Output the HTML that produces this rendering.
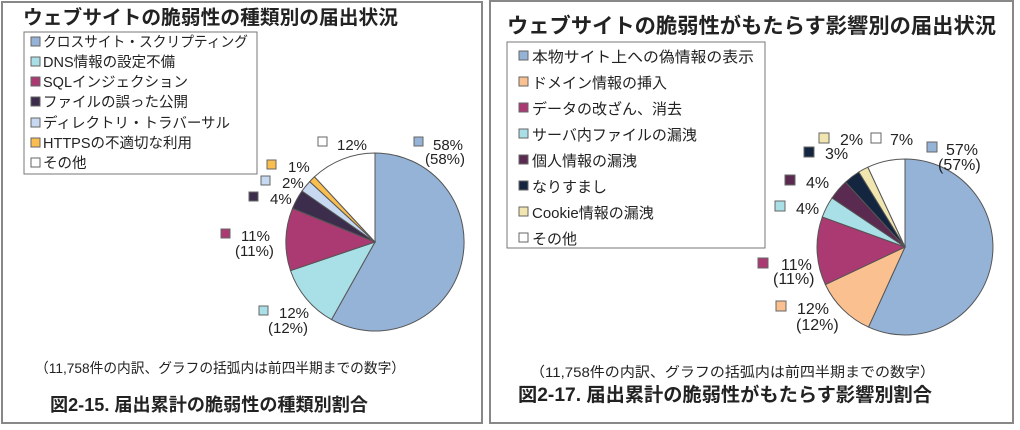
<!DOCTYPE html>
<html><head><meta charset="utf-8"><style>
html,body{margin:0;padding:0;background:#fff}
svg text{font-family:"Liberation Sans","Noto Sans CJK JP",sans-serif;fill:#222}
</style></head><body>
<svg width="1020" height="425" viewBox="0 0 1020 425" xmlns="http://www.w3.org/2000/svg">
<rect x="2" y="2" width="480" height="421" fill="#fff" stroke="#888" stroke-width="2"/>
<rect x="490" y="1" width="523" height="422" fill="#fff" stroke="#888" stroke-width="2"/>
<g id="L">
<text x="23" y="24" font-size="19.5" font-weight="bold" textLength="375" lengthAdjust="spacingAndGlyphs">ウェブサイトの脆弱性の種類別の届出状況</text>
<rect x="24" y="32" width="233" height="142" fill="#fff" stroke="#777"/>
<g font-size="14.5">
<rect x="31" y="37" width="9" height="9" fill="#95b3d7" stroke="#666"/><text x="43" y="47" textLength="205" lengthAdjust="spacingAndGlyphs">クロスサイト・スクリプティング</text>
<rect x="31" y="57" width="9" height="9" fill="#a9dfe6" stroke="#666"/><text x="43" y="67">DNS情報の設定不備</text>
<rect x="31" y="77" width="9" height="9" fill="#ab3a72" stroke="#666"/><text x="43" y="87">SQLインジェクション</text>
<rect x="31" y="97" width="9" height="9" fill="#3b2d4b" stroke="#666"/><text x="43" y="107">ファイルの誤った公開</text>
<rect x="31" y="118" width="9" height="9" fill="#c6d9f0" stroke="#666"/><text x="43" y="128">ディレクトリ・トラバーサル</text>
<rect x="31" y="138" width="9" height="9" fill="#f9be4e" stroke="#666"/><text x="43" y="148">HTTPSの不適切な利用</text>
<rect x="31" y="158" width="9" height="9" fill="#fff" stroke="#666"/><text x="43" y="168">その他</text>
</g>
<g stroke="#555" stroke-width="1">
<path d="M375,242 L375,153 A89,89 0 1 1 331.5,319.6 Z" fill="#95b3d7"/>
<path d="M375,242 L331.5,319.6 A89,89 0 0 1 290.5,270.6 Z" fill="#a9dfe6"/>
<path d="M375,242 L290.5,270.6 A89,89 0 0 1 292.5,208.4 Z" fill="#ab3a72"/>
<path d="M375,242 L292.5,208.4 A89,89 0 0 1 302.0,191.0 Z" fill="#3b2d4b"/>
<path d="M375,242 L302.0,191.0 A89,89 0 0 1 309.7,181.6 Z" fill="#c6d9f0"/>
<path d="M375,242 L309.7,181.6 A89,89 0 0 1 314.5,176.8 Z" fill="#f9be4e"/>
<path d="M375,242 L314.5,176.8 A89,89 0 0 1 375,153 Z" fill="#fff"/>
</g>
<g font-size="15">
<rect x="414" y="137" width="9" height="9" fill="#95b3d7" stroke="#666"/><text x="433" y="150">58%</text><text x="425" y="164">(58%)</text>
<rect x="318" y="137" width="9" height="9" fill="#fff" stroke="#666"/><text x="337" y="150">12%</text>
<rect x="267" y="160" width="9" height="9" fill="#f9be4e" stroke="#666"/><text x="288" y="172">1%</text>
<rect x="261" y="176" width="9" height="9" fill="#c6d9f0" stroke="#666"/><text x="282" y="188">2%</text>
<rect x="249" y="192" width="9" height="9" fill="#3b2d4b" stroke="#666"/><text x="270" y="204">4%</text>
<rect x="221" y="229" width="9" height="9" fill="#ab3a72" stroke="#666"/><text x="241" y="241">11%</text><text x="235" y="256">(11%)</text>
<rect x="259" y="306" width="9" height="9" fill="#a9dfe6" stroke="#666"/><text x="279" y="318">12%</text><text x="268" y="333">(12%)</text>
</g>
<text x="35" y="373" font-size="14" textLength="370" lengthAdjust="spacingAndGlyphs">（11,758件の内訳、グラフの括弧内は前四半期までの数字）</text>
<text x="50" y="411" font-size="18" font-weight="bold" textLength="318" lengthAdjust="spacingAndGlyphs">図2-15. 届出累計の脆弱性の種類別割合</text>
</g>
<g id="R">
<text x="507" y="33" font-size="21" font-weight="bold" textLength="489" lengthAdjust="spacingAndGlyphs">ウェブサイトの脆弱性がもたらす影響別の届出状況</text>
<rect x="507" y="42" width="258" height="206" fill="#fff" stroke="#777"/>
<g font-size="15">
<rect x="519" y="51" width="9" height="9" fill="#95b3d7" stroke="#666"/><text x="532" y="62" textLength="222" lengthAdjust="spacingAndGlyphs">本物サイト上への偽情報の表示</text>
<rect x="519" y="77" width="9" height="9" fill="#fac090" stroke="#666"/><text x="532" y="88">ドメイン情報の挿入</text>
<rect x="519" y="103" width="9" height="9" fill="#ab3a72" stroke="#666"/><text x="532" y="114">データの改ざん、消去</text>
<rect x="519" y="129" width="9" height="9" fill="#a9dfe6" stroke="#666"/><text x="532" y="140">サーバ内ファイルの漏洩</text>
<rect x="519" y="155" width="9" height="9" fill="#5a2a50" stroke="#666"/><text x="532" y="166">個人情報の漏洩</text>
<rect x="519" y="181" width="9" height="9" fill="#14263f" stroke="#666"/><text x="532" y="192">なりすまし</text>
<rect x="519" y="207" width="9" height="9" fill="#f2e6b0" stroke="#666"/><text x="532" y="218">Cookie情報の漏洩</text>
<rect x="519" y="233" width="9" height="9" fill="#fff" stroke="#666"/><text x="532" y="244">その他</text>
</g>
<g stroke="#555" stroke-width="1">
<path d="M905,247 L905,159 A88,88 0 1 1 868.5,327.1 Z" fill="#95b3d7"/>
<path d="M905,247 L868.5,327.1 A88,88 0 0 1 825.4,284.6 Z" fill="#fac090"/>
<path d="M905,247 L825.4,284.6 A88,88 0 0 1 822.3,217.0 Z" fill="#ab3a72"/>
<path d="M905,247 L822.3,217.0 A88,88 0 0 1 832.0,198.0 Z" fill="#a9dfe6"/>
<path d="M905,247 L832.0,198.0 A88,88 0 0 1 845.6,182.1 Z" fill="#5a2a50"/>
<path d="M905,247 L845.6,182.1 A88,88 0 0 1 858.8,172.0 Z" fill="#14263f"/>
<path d="M905,247 L858.8,172.0 A88,88 0 0 1 867.9,167.2 Z" fill="#f2e6b0"/>
<path d="M905,247 L867.9,167.2 A88,88 0 0 1 905,159 Z" fill="#fff"/>
</g>
<g font-size="16">
<rect x="927" y="142" width="10" height="10" fill="#95b3d7" stroke="#666"/><text x="946" y="155">57%</text><text x="938" y="170">(57%)</text>
<rect x="871" y="133" width="10" height="10" fill="#fff" stroke="#666"/><text x="890" y="145">7%</text>
<rect x="819" y="133" width="10" height="10" fill="#f2e6b0" stroke="#666"/><text x="840" y="145">2%</text>
<rect x="804" y="147" width="10" height="10" fill="#14263f" stroke="#666"/><text x="825" y="159">3%</text>
<rect x="785" y="175" width="10" height="10" fill="#5a2a50" stroke="#666"/><text x="806" y="188">4%</text>
<rect x="775" y="201" width="10" height="10" fill="#a9dfe6" stroke="#666"/><text x="796" y="214">4%</text>
<rect x="758" y="258" width="10" height="10" fill="#ab3a72" stroke="#666"/><text x="781" y="270">11%</text><text x="773" y="284">(11%)</text>
<rect x="776" y="301" width="10" height="10" fill="#fac090" stroke="#666"/><text x="797" y="314">12%</text><text x="796" y="330">(12%)</text>
</g>
<text x="530" y="377" font-size="14" textLength="405" lengthAdjust="spacingAndGlyphs">（11,758件の内訳、グラフの括弧内は前四半期までの数字）</text>
<text x="518" y="401" font-size="19" font-weight="bold" textLength="414" lengthAdjust="spacingAndGlyphs">図2-17. 届出累計の脆弱性がもたらす影響別割合</text>
</g>
</svg>
</body></html>
